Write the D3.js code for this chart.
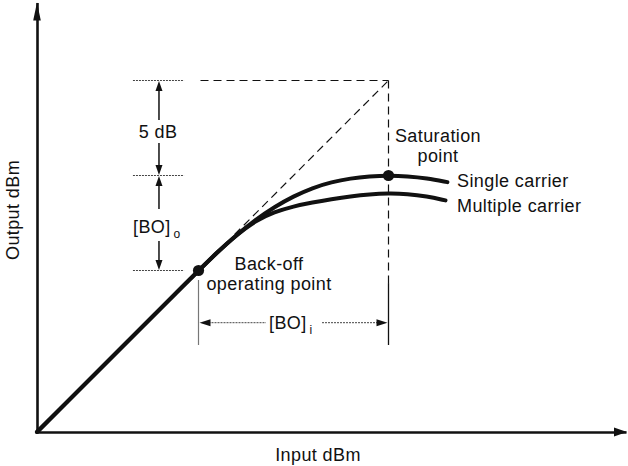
<!DOCTYPE html>
<html>
<head>
<meta charset="utf-8">
<script src="https://cdn.jsdelivr.net/npm/d3@7"></script>
<style>
  html, body { margin: 0; padding: 0; background: #fff; }
  svg text { font-family: "Liberation Sans", Arial, Helvetica, sans-serif; fill: #111; letter-spacing: 0.4px; }
</style>
</head>
<body>
<svg id="chart" width="628" height="466"></svg>
<script>
// Transfer characteristic of a power amplifier (output vs input, dB units)
const singleIn  = [0, 8.5, 9.5, 10.5, 11.5, 12.5, 13.5, 14.5, 15.5, 16.5, 17.5, 18.5, 19.5, 20.5, 21.6];
const singleOut = [0, 8.5, 9.47, 10.37, 11.17, 11.85, 12.41, 12.85, 13.16, 13.35, 13.45, 13.5, 13.46, 13.36, 13.15];
const multiIn   = [0, 8.5, 9.5, 10.5, 11.5, 12.5, 13.5, 14.5, 15.5, 16.5, 17.5, 18.5, 19.5, 20.5, 21.5];
const multiOut  = [0, 8.5, 9.47, 10.37, 11.12, 11.58, 11.88, 12.08, 12.25, 12.4, 12.51, 12.56, 12.53, 12.41, 12.19];

// Operating points
const backoffPoint    = { input: 8.5,  output: 8.5 };
const saturationPoint = { input: 18.5, output: 13.5 };
const gainLimit       = 18.5;   // linear gain line reaches this at saturation input
const outputGap       = 5;      // dB between linear extension and saturated output

const seriesLabels = ["Single carrier", "Multiple carrier"];
const axisLabels = { x: "Input dBm", y: "Output dBm" };

const svg = d3.select("#chart");
const x = d3.scaleLinear().domain([0, 31]).range([37, 626]);
const y = d3.scaleLinear().domain([0, 22.6]).range([432, 2.6]);

const ink = "#111";

// ---- axes (plain lines with arrowheads, no ticks) ----
const gx = svg.append("g").attr("transform", `translate(0,${y(0)})`)
  .call(d3.axisBottom(x).tickValues([]).tickSizeOuter(0));
const gy = svg.append("g").attr("transform", `translate(${x(0)},0)`)
  .call(d3.axisLeft(y).tickValues([]).tickSizeOuter(0));
[gx, gy].forEach(g => g.select(".domain").attr("stroke", ink).attr("stroke-width", 2.6));

function head(tx, ty, angleDeg, len, half) {
  const a = angleDeg * Math.PI / 180;
  const ux = Math.cos(a), uy = Math.sin(a);
  const bx = tx - ux * len, by = ty - uy * len;
  const px = -uy * half, py = ux * half;
  svg.append("path")
    .attr("d", `M${tx},${ty}L${bx + px},${by + py}L${bx - px},${by - py}Z`)
    .attr("fill", ink);
}
// axis arrows
head(x(31) + 1, y(0), 0, 13, 4.5);
head(x(0), y(22.6), -90, 18, 3.8);

// ---- dashed construction lines ----
const dash = "8,5";
const dashed = (x1, y1, x2, y2) => svg.append("line")
  .attr("x1", x1).attr("y1", y1).attr("x2", x2).attr("y2", y2)
  .attr("stroke", ink).attr("stroke-width", 1.2).attr("stroke-dasharray", dash);

// linear-gain extension
dashed(x(10.4), y(10.4), x(gainLimit), y(gainLimit));
// top horizontal
dashed(x(backoffPoint.input) + 2, y(gainLimit), x(gainLimit), y(gainLimit));
// vertical through saturation input
dashed(x(saturationPoint.input), y(gainLimit), x(saturationPoint.input), y(7.84));

// ---- characteristic curves ----
const line = d3.line().curve(d3.curveBasis)
  .x(d => x(d[0])).y(d => y(d[1]));
const multiData = d3.zip(multiIn, multiOut);
const singleData = d3.zip(singleIn, singleOut);
svg.append("path").attr("d", line(multiData))
  .attr("fill", "none").attr("stroke", ink).attr("stroke-width", 4)
  .attr("stroke-linecap", "round");
svg.append("path").attr("d", line(singleData))
  .attr("fill", "none").attr("stroke", ink).attr("stroke-width", 4)
  .attr("stroke-linecap", "round");

// operating point markers
[backoffPoint, saturationPoint].forEach(p => {
  svg.append("circle").attr("cx", x(p.input)).attr("cy", y(p.output))
    .attr("r", 5.6).attr("fill", ink);
});

// ---- output back-off dimension (left) ----
const dimX0 = x(5.05), dimX1 = x(7.74), dimMid = x(6.42);
const outTop = gainLimit, outSat = gainLimit - outputGap, outBack = backoffPoint.output;
[outTop, outSat, outBack].forEach(v => {
  svg.append("line").attr("x1", dimX0).attr("x2", dimX1)
    .attr("y1", y(v)).attr("y2", y(v))
    .attr("stroke", "#444").attr("stroke-width", 1).attr("stroke-dasharray", "2,1");
});
const vline = (x0, y1, y2, color, w) => svg.append("line")
  .attr("x1", x0).attr("x2", x0).attr("y1", y1).attr("y2", y2)
  .attr("stroke", color || ink).attr("stroke-width", w || 1.5);

// 5 dB arrows
vline(dimMid, y(outTop) + 4, 120);
head(dimMid, y(outTop) + 0.5, -90, 10, 3.5);
vline(dimMid, 143, y(outSat) - 4);
head(dimMid, y(outSat) - 0.5, 90, 10, 3.5);
// [BO]o arrows
vline(dimMid, y(outSat) + 4, 209);
head(dimMid, y(outSat) + 0.5, -90, 10, 3.5);
vline(dimMid, 241, y(outBack) - 4);
head(dimMid, y(outBack) - 0.5, 90, 10, 3.5);

// ---- input back-off dimension (bottom) ----
const dimY = 322.7;
vline(x(backoffPoint.input), y(8.0), y(4.58), "#777", 1.2);
vline(x(saturationPoint.input), y(7.84), y(4.58), ink, 1.3);
const hdot = (x1, x2) => svg.append("line")
  .attr("x1", x1).attr("x2", x2).attr("y1", dimY).attr("y2", dimY)
  .attr("stroke", "#444").attr("stroke-width", 1).attr("stroke-dasharray", "2,1");
hdot(x(backoffPoint.input) + 4, 266);
hdot(322, x(saturationPoint.input) - 4);
head(x(backoffPoint.input) + 1, dimY, 180, 11, 3.5);
head(x(saturationPoint.input) - 1, dimY, 0, 11, 3.5);

// ---- text ----
const fs = 18;
function label(tx, ty, str, anchor) {
  return svg.append("text").attr("x", tx).attr("y", ty)
    .attr("text-anchor", anchor || "start").attr("font-size", fs).text(str);
}
function subLabel(tx, ty, main, sub, anchor) {
  const t = svg.append("text").attr("x", tx).attr("y", ty)
    .attr("text-anchor", anchor || "start").attr("font-size", fs);
  t.append("tspan").text(main);
  t.append("tspan").attr("dx", 3).attr("dy", 5).attr("font-size", 12).text(sub);
  return t;
}

label(dimMid - 1, 138, "5 dB", "middle");
subLabel(133, 233, "[BO]", "o");
subLabel(269, 329, "[BO]", "i");

label(438, 141.5, "Saturation", "middle");
label(438, 161.5, "point", "middle");
label(457, 187, seriesLabels[0]);
label(457, 211.5, seriesLabels[1]);

label(269, 270, "Back-off", "middle");
label(269, 290, "operating point", "middle");

label(318, 461, axisLabels.x, "middle");
svg.append("text")
  .attr("transform", `translate(19,${210}) rotate(-90)`)
  .attr("text-anchor", "middle").attr("font-size", fs).text(axisLabels.y);
</script>
</body>
</html>
